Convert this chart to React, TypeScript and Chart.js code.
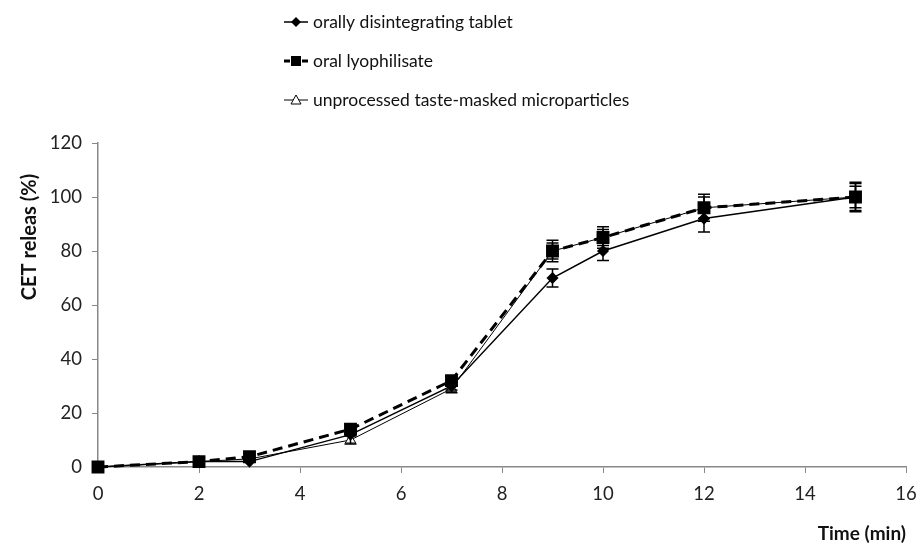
import React, { useEffect, useRef } from "react";
import { Chart, registerables } from "chart.js";

Chart.register(...registerables);

const times = [0, 2, 3, 5, 7, 9, 10, 12, 15];
const odtValues = [0, 2, 2, 12, 30, 70, 80, 92, 100];
const odtErrors = [0.5, 0.8, 1, 1.2, 1.5, 3.3, 3.5, 5, 5];
const lyoValues = [0, 2, 3.8, 14, 32, 80, 85, 96, 100];
const lyoErrors = [0.5, 0.8, 1, 1.5, 1.5, 4, 4, 5, 5.5];
const microValues = [0, 2, 3, 10, 29, 80, 85, 96, 100];
const microErrors = [0.5, 0.8, 1, 1.5, 1.5, 3, 3, 4, 4];
const yTicks = [0, 20, 40, 60, 80, 100, 120];
const xTicks = [0, 2, 4, 6, 8, 10, 12, 14, 16];

const legendLabels = [
  "orally disintegrating tablet",
  "oral lyophilisate",
  "unprocessed taste-masked microparticles",
];

const FONT = "Lato, 'Open Sans', 'Liberation Sans', sans-serif";

const toPoints = (vals: number[]) => times.map((t, i) => ({ x: t, y: vals[i] }));

const errorBarPlugin = {
  id: "errorBars",
  afterDatasetsDraw(chart: any) {
    const ctx = chart.ctx;
    const ys = chart.scales.y;
    const xs = chart.scales.x;
    const sets = [
      { vals: microValues, errs: microErrors },
      { vals: odtValues, errs: odtErrors },
      { vals: lyoValues, errs: lyoErrors },
    ];
    ctx.save();
    ctx.strokeStyle = "#000";
    ctx.lineWidth = 1.5;
    sets.forEach((s) => {
      times.forEach((t, i) => {
        const e = s.errs[i];
        if (e < 1.5) return;
        const px = xs.getPixelForValue(t);
        const top = ys.getPixelForValue(s.vals[i] + e);
        const bot = ys.getPixelForValue(s.vals[i] - e);
        ctx.beginPath();
        ctx.moveTo(px, top);
        ctx.lineTo(px, bot);
        ctx.moveTo(px - 6, top);
        ctx.lineTo(px + 6, top);
        ctx.moveTo(px - 6, bot);
        ctx.lineTo(px + 6, bot);
        ctx.stroke();
      });
    });
    ctx.restore();
  },
};

const annotationPlugin = {
  id: "customText",
  afterDraw(chart: any) {
    const ctx = chart.ctx;
    ctx.save();
    ctx.fillStyle = "#111";
    ctx.font = `bold 20px ${FONT}`;
    ctx.translate(30, 237);
    ctx.rotate(-Math.PI / 2);
    ctx.textAlign = "center";
    ctx.textBaseline = "middle";
    ctx.fillText("CET releas (%)", 0, 0);
    ctx.restore();

    ctx.save();
    const rows = [22, 61, 100];
    const x0 = 284;
    const x1 = 308;
    const mx = 296;
    ctx.font = `17.5px ${FONT}`;
    ctx.textBaseline = "middle";
    ctx.textAlign = "left";
    rows.forEach((y, i) => {
      ctx.strokeStyle = "#000";
      ctx.fillStyle = "#000";
      ctx.setLineDash([]);
      if (i === 0) {
        ctx.lineWidth = 1.5;
        ctx.beginPath();
        ctx.moveTo(x0, y);
        ctx.lineTo(x1, y);
        ctx.stroke();
        ctx.beginPath();
        ctx.moveTo(mx, y - 5);
        ctx.lineTo(mx + 5, y);
        ctx.lineTo(mx, y + 5);
        ctx.lineTo(mx - 5, y);
        ctx.closePath();
        ctx.fill();
      } else if (i === 1) {
        ctx.lineWidth = 3;
        ctx.beginPath();
        ctx.moveTo(x0, y);
        ctx.lineTo(x0 + 6, y);
        ctx.moveTo(x1 - 6, y);
        ctx.lineTo(x1, y);
        ctx.stroke();
        ctx.fillRect(mx - 5, y - 5, 10, 10);
      } else {
        ctx.lineWidth = 1;
        ctx.beginPath();
        ctx.moveTo(x0, y);
        ctx.lineTo(x1, y);
        ctx.stroke();
        ctx.fillStyle = "#fff";
        ctx.beginPath();
        ctx.moveTo(mx, y - 5);
        ctx.lineTo(mx + 5, y + 4);
        ctx.lineTo(mx - 5, y + 4);
        ctx.closePath();
        ctx.fill();
        ctx.stroke();
      }
      ctx.fillStyle = "#111";
      ctx.fillText(legendLabels[i], 313, y);
    });
    ctx.restore();
  },
};

export default function App() {
  const ref = useRef<HTMLCanvasElement | null>(null);

  useEffect(() => {
    if (!ref.current) return;
    const chart = new Chart(ref.current, {
      type: "line",
      data: {
        datasets: [
          {
            label: legendLabels[0],
            data: toPoints(odtValues),
            borderColor: "#000",
            backgroundColor: "#000",
            borderWidth: 1.5,
            pointStyle: "rectRot",
            pointRadius: 5,
            pointBackgroundColor: "#000",
            pointBorderColor: "#000",
            clip: false,
            order: 2,
          },
          {
            label: legendLabels[1],
            data: toPoints(lyoValues),
            borderColor: "#000",
            backgroundColor: "#000",
            borderWidth: 3,
            borderDash: [10, 6],
            pointStyle: "rect",
            pointRadius: 7,
            pointBackgroundColor: "#000",
            pointBorderColor: "#000",
            clip: false,
            order: 1,
          },
          {
            label: legendLabels[2],
            data: toPoints(microValues),
            borderColor: "#000",
            backgroundColor: "#fff",
            borderWidth: 1,
            pointStyle: "triangle",
            pointRadius: 6,
            pointBackgroundColor: "#fff",
            pointBorderColor: "#000",
            pointBorderWidth: 1,
            clip: false,
            order: 3,
          },
        ],
      },
      options: {
        animation: false,
        responsive: false,
        maintainAspectRatio: false,
        layout: { padding: { left: 0, top: 143, right: 14, bottom: 0 } },
        plugins: {
          legend: { display: false },
          tooltip: { enabled: false },
        },
        scales: {
          x: {
            type: "linear",
            min: 0,
            max: 16,
            afterBuildTicks: (axis: any) => {
              axis.ticks = xTicks.map((v) => ({ value: v }));
            },
            afterFit: (axis: any) => {
              axis.height = 82;
              axis.paddingLeft = 0;
              axis.paddingRight = 0;
            },
            grid: {
              display: true,
              drawOnChartArea: false,
              drawTicks: true,
              tickLength: 6,
              color: "#888",
            },
            border: { display: true, color: "#888", width: 1.5 },
            ticks: {
              color: "#222",
              font: { family: FONT, size: 18.5 },
              padding: 10,
              maxRotation: 0,
            },
            title: {
              display: true,
              text: "Time (min)",
              align: "end",
              color: "#111",
              font: { family: FONT, size: 19, weight: "bold" },
              padding: { top: 12 },
            },
          },
          y: {
            type: "linear",
            min: 0,
            max: 120,
            afterBuildTicks: (axis: any) => {
              axis.ticks = yTicks.map((v) => ({ value: v }));
            },
            afterFit: (axis: any) => {
              axis.width = 98;
              axis.paddingTop = 0;
              axis.paddingBottom = 0;
            },
            grid: {
              display: true,
              drawOnChartArea: false,
              drawTicks: true,
              tickLength: 6,
              color: "#888",
            },
            border: { display: true, color: "#888", width: 1.5 },
            ticks: {
              color: "#222",
              font: { family: FONT, size: 18.5 },
              padding: 10,
            },
          },
        },
      },
      plugins: [errorBarPlugin, annotationPlugin],
    });
    return () => chart.destroy();
  }, []);

  return (
    <div style={{ position: "fixed", left: 0, top: 0, width: 920, height: 549, background: "#fff" }}>
      <canvas ref={ref} width={920} height={549} style={{ width: 920, height: 549 }} />
    </div>
  );
}
